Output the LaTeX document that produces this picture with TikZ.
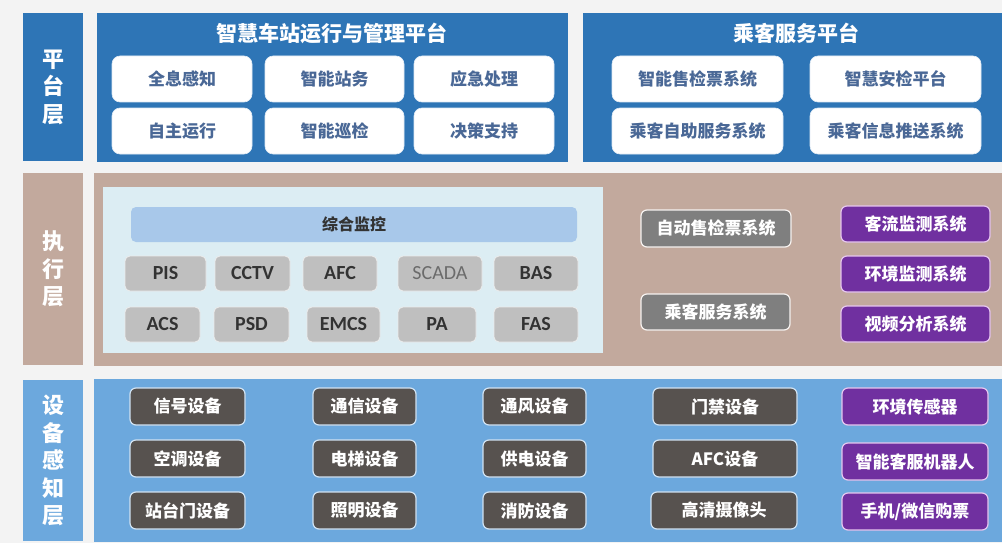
\documentclass[tikz,border=0pt]{standalone}
\usepackage{fontspec}
\setmainfont{Carlito}
\newfontfamily\cjk{Noto Sans CJK SC}
\definecolor{bgc}{HTML}{F3F3F3}
\definecolor{pblue}{HTML}{2E75B6}
\definecolor{wtxt}{HTML}{4A6896}
\definecolor{brownc}{HTML}{C2A99D}
\definecolor{panelc}{HTML}{DCEDF3}
\definecolor{barc}{HTML}{A8C8EA}
\definecolor{grayc}{HTML}{BFBFBF}
\definecolor{gtxt}{HTML}{333333}
\definecolor{dgray}{HTML}{7F7F7F}
\definecolor{purp}{HTML}{7030A0}
\definecolor{purpedge}{HTML}{E6C6EE}
\definecolor{dblue}{HTML}{6CA8DD}
\definecolor{darkc}{HTML}{57524F}
\definecolor{darkedge}{HTML}{D0E2F2}
\newcommand\bx[7]{\node[#6, minimum width={#4-#2}, minimum height={#5-#3}] (#1) at ({(#2+#4)/2},{(#3+#5)/2}) {#7};}
\tikzset{
  layer/.style={inner sep=0, outer sep=0},
  labbox/.style={layer, text=white, align=center, font=\cjk\bfseries\fontsize{22}{27.5}\selectfont},
  wbox/.style={fill=white, draw=white!85!pblue, line width=0.6pt, rounded corners=8pt, inner sep=0, text=wtxt, font=\cjk\bfseries\fontsize{17}{20}\selectfont},
  ttl/.style={text=white, inner sep=0, font=\cjk\bfseries\fontsize{21}{24}\selectfont},
  gbox/.style={fill=grayc, draw=white!70!grayc, line width=0.8pt, rounded corners=5pt, inner sep=0, text=gtxt, font=\bfseries\fontsize{20}{23}\selectfont},
  rbox/.style={fill=dgray, draw=white!85!brownc, line width=1.2pt, rounded corners=6pt, inner sep=0, text=white, font=\cjk\bfseries\fontsize{17}{20}\selectfont},
  pbox/.style={fill=purp, draw=purpedge, line width=1.2pt, rounded corners=6pt, inner sep=0, text=white, font=\cjk\bfseries\fontsize{17}{20}\selectfont},
  dbox/.style={fill=darkc, draw=darkedge, line width=1.2pt, rounded corners=6pt, inner sep=0, text=white, font=\cjk\bfseries\fontsize{17}{20}\selectfont},
}
\begin{document}
\begin{tikzpicture}[x=1pt,y=-1pt]
\useasboundingbox (0,0) rectangle (1002,543);
\fill[bgc] (0,0) rectangle (1002,543);
% ---- platform layer
\bx{lab1}{23}{13}{83}{161}{labbox, fill=pblue}{平\\台\\层}
\bx{pf1}{97}{13}{568}{162}{layer, fill=pblue}{}
\bx{pf2}{583}{13}{1002}{162}{layer, fill=pblue}{}
\node[ttl] (t1) at (332,33) {智慧车站运行与管理平台};
\node[ttl] (t2) at (796,33) {乘客服务平台};
\bx{w1}{112}{56}{252}{102}{wbox}{全息感知}
\bx{w2}{265}{56}{404}{102}{wbox}{智能站务}
\bx{w3}{414}{56}{554}{102}{wbox}{应急处理}
\bx{w4}{112}{108}{252}{154}{wbox}{自主运行}
\bx{w5}{265}{108}{404}{154}{wbox}{智能巡检}
\bx{w6}{414}{108}{554}{154}{wbox}{决策支持}
\bx{w7}{612}{56}{783}{102}{wbox}{智能售检票系统}
\bx{w8}{810}{56}{981}{102}{wbox}{智慧安检平台}
\bx{w9}{612}{108}{783}{154}{wbox}{乘客自助服务系统}
\bx{w10}{810}{108}{981}{154}{wbox}{乘客信息推送系统}
% ---- execution layer
\bx{lab2}{23}{173}{83}{365}{labbox, fill=brownc}{执\\行\\层}
\bx{ex}{94}{173}{1002}{366}{layer, fill=brownc}{}
\bx{panel}{103}{187}{603}{353}{layer, fill=panelc}{}
\bx{bar}{131}{207}{577}{242}{fill=barc, rounded corners=5pt, inner sep=0, text=gtxt, font=\cjk\bfseries\fontsize{16}{19}\selectfont}{综合监控}
\bx{g1}{125}{256}{206}{291}{gbox}{PIS}
\bx{g2}{215}{256}{290}{291}{gbox}{CCTV}
\bx{g3}{303}{256}{377}{291}{gbox}{AFC}
\bx{g4}{398}{256}{482}{291}{gbox, text=black!58, font=\fontsize{20}{23}\selectfont}{SCADA}
\bx{g5}{494}{256}{578}{291}{gbox}{BAS}
\bx{g6}{125}{307}{200}{342}{gbox}{ACS}
\bx{g7}{214}{307}{289}{342}{gbox}{PSD}
\bx{g8}{307}{307}{380}{342}{gbox}{EMCS}
\bx{g9}{398}{307}{476}{342}{gbox}{PA}
\bx{g10}{494}{307}{578}{342}{gbox}{FAS}
\bx{r1}{641}{210}{791}{247}{rbox}{自动售检票系统}
\bx{r2}{641}{294}{790}{330}{rbox}{乘客服务系统}
\bx{p1}{841}{206}{990}{242}{pbox}{客流监测系统}
\bx{p2}{841}{256}{990}{292}{pbox}{环境监测系统}
\bx{p3}{841}{306}{990}{342}{pbox}{视频分析系统}
% ---- device layer
\bx{lab3}{23}{380}{83}{541}{labbox, fill=dblue}{设\\备\\感\\知\\层}
\bx{dv}{94}{379}{1002}{542}{layer, fill=dblue}{}
\bx{d1}{130}{388}{245}{425}{dbox}{信号设备}
\bx{d2}{313}{388}{416}{425}{dbox}{通信设备}
\bx{d3}{483}{388}{586}{425}{dbox}{通风设备}
\bx{d4}{653}{388}{797}{425}{dbox}{门禁设备}
\bx{d5}{842}{388}{988}{425}{pbox}{环境传感器}
\bx{d6}{130}{440}{245}{477}{dbox}{空调设备}
\bx{d7}{313}{440}{416}{477}{dbox}{电梯设备}
\bx{d8}{483}{440}{586}{477}{dbox}{供电设备}
\bx{d9}{653}{440}{797}{477}{dbox}{AFC设备}
\bx{d10}{842}{443}{988}{480}{pbox}{智能客服机器人}
\bx{d11}{130}{492}{245}{529}{dbox}{站台门设备}
\bx{d12}{313}{492}{416}{529}{dbox}{照明设备}
\bx{d13}{483}{492}{586}{529}{dbox}{消防设备}
\bx{d14}{651}{492}{797}{529}{dbox}{高清摄像头}
\bx{d15}{842}{493}{988}{530}{pbox}{手机/微信购票}
\end{tikzpicture}
\end{document}
